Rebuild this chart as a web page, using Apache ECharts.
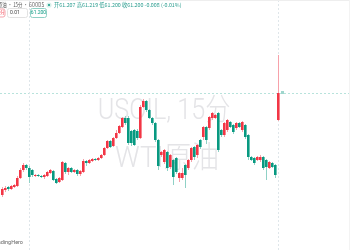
<!DOCTYPE html>
<html><head><meta charset="utf-8">
<script src="https://cdn.jsdelivr.net/npm/echarts@6/dist/echarts.min.js"></script>
<style>html,body{margin:0;padding:0;background:#fff}#c{width:350px;height:250px}</style>
</head><body><div id="c"></div>
<script>
var categories = [];
for (var k = 0; k < 93; k++) categories.push(String(k));
var opens = [60.18,60.23,60.26,60.24,60.26,60.27,60.35,60.43,60.48,60.45,60.43,60.37,60.38,60.37,60.36,60.37,60.40,60.42,60.34,60.31,60.33,60.50,60.41,60.45,60.41,60.43,60.39,60.41,60.52,60.50,60.52,60.54,60.53,60.55,60.58,60.65,60.72,60.67,60.75,60.80,60.86,60.95,60.95,60.82,60.83,60.82,60.75,61.06,61.12,61.03,60.95,60.90,60.73,60.58,60.51,60.61,60.46,60.53,60.55,60.35,60.35,60.48,60.45,60.53,60.66,60.58,60.73,60.76,60.86,60.85,60.95,60.95,61.00,60.83,60.78,60.83,60.91,60.88,60.85,60.90,60.83,60.88,60.78,60.56,60.55,60.53,60.53,60.56,60.53,60.45,60.50,60.48,60.93];
var closes = [60.24,60.25,60.24,60.27,60.28,60.35,60.43,60.48,60.45,60.36,60.38,60.38,60.37,60.36,60.38,60.41,60.43,60.33,60.30,60.35,60.51,60.41,60.45,60.41,60.43,60.39,60.42,60.52,60.50,60.53,60.54,60.53,60.55,60.58,60.65,60.72,60.66,60.75,60.80,60.87,60.95,60.90,60.70,60.70,60.68,60.75,61.06,61.12,61.03,60.95,60.90,60.73,60.47,60.61,60.63,60.45,60.58,60.36,60.41,60.40,60.40,60.38,60.53,60.65,60.56,60.68,60.66,60.86,60.73,60.96,61.00,60.98,60.63,60.78,60.90,60.93,60.86,60.81,60.90,60.86,60.91,60.76,60.56,60.53,60.50,60.56,60.56,60.45,60.46,60.51,60.46,60.38,61.20];
var lows = [60.16,60.21,60.22,60.23,60.25,60.26,60.34,60.41,60.43,60.30,60.36,60.36,60.36,60.35,60.34,60.36,60.39,60.32,60.29,60.30,60.32,60.39,60.38,60.40,60.40,60.37,60.37,60.40,60.47,60.49,60.51,60.52,60.52,60.54,60.57,60.64,60.65,60.66,60.74,60.79,60.85,60.88,60.68,60.67,60.67,60.73,60.74,61.05,61.01,60.94,60.88,60.71,60.43,60.56,60.49,60.42,60.44,60.28,60.39,60.31,60.33,60.25,60.43,60.51,60.53,60.55,60.64,60.73,60.69,60.83,60.93,60.94,60.61,60.76,60.76,60.81,60.85,60.79,60.83,60.85,60.81,60.74,60.53,60.52,60.48,60.52,60.51,60.43,60.33,60.44,60.45,60.35,60.92];
var highs = [60.26,60.27,60.27,60.28,60.29,60.37,60.45,60.50,60.49,60.47,60.44,60.39,60.39,60.38,60.39,60.42,60.44,60.43,60.35,60.36,60.52,60.51,60.46,60.46,60.44,60.44,60.43,60.54,60.53,60.54,60.55,60.55,60.56,60.59,60.66,60.73,60.73,60.76,60.83,60.88,60.96,60.97,60.97,60.83,60.84,60.84,61.08,61.14,61.13,61.04,60.96,60.91,60.74,60.62,60.64,60.62,60.59,60.54,60.56,60.41,60.45,60.49,60.54,60.66,60.67,60.69,60.74,60.87,60.87,60.97,61.01,60.99,61.01,60.84,60.91,60.94,60.92,60.89,60.91,60.91,60.92,60.89,60.79,60.57,60.56,60.57,60.58,60.57,60.54,60.52,60.51,60.49,61.58];
var lastPrice = 61.20;
var separatorIndex = 9;
var cursorIndex = 92;
var watermark1 = 'USOIL, 15分';
var watermark2 = 'WTI原油';
var headerLeft = 'WTI原油 · 15分 · GOODS';
var headerOHLC = '开61.207 高61.219 低61.200 收61.200 -0.008 (-0.01%)';
var boxes = ['分', '0.01', '61.200'];
var brand = 'TradingHero';

var RED = '#f23645', GREEN = '#089981';
var RED_WICK = '#f7a1aa', GREEN_WICK = '#8fd1c6';
var rows = opens.map(function(o, i){ return [i, o, closes[i], lows[i], highs[i]]; });

function renderCandle(params, api) {
  var i = api.value(0), o = api.value(1), c = api.value(2), l = api.value(3), h = api.value(4);
  var up = c >= o;
  var pO = api.coord([i, o]), pC = api.coord([i, c]), pL = api.coord([i, l]), pH = api.coord([i, h]);
  var x = Math.round(pO[0]);
  var top = Math.min(pO[1], pC[1]), bot = Math.max(pO[1], pC[1]);
  var bh = Math.max(1, bot - top);
  return {type:'group', children:[
    {type:'rect', shape:{x:x, y:pH[1], width:1, height:pL[1]-pH[1]}, style:{fill: up ? RED_WICK : GREEN_WICK}},
    {type:'rect', shape:{x:x-1, y:top, width:2.6, height:bh}, style:{fill: up ? RED : GREEN}}
  ]};
}

var chart = echarts.init(document.getElementById('c'), null, {renderer:'canvas'});
chart.setOption({
  animation:false,
  backgroundColor:'#ffffff',
  grid:{left:0.5, right:70.5, top:0, bottom:0, containLabel:false},
  xAxis:{type:'category', data:categories, boundaryGap:true, show:false},
  yAxis:{type:'value', min:59.63, max:62.13, show:false, splitLine:{show:false}},
  series:[{
    type:'custom', data:rows, z:5, renderItem:renderCandle,
    encode:{x:0, y:[1,2,3,4]}
  }]
});

var py = chart.convertToPixel({yAxisIndex:0}, lastPrice);
var sx = chart.convertToPixel({xAxisIndex:0}, separatorIndex);
var cx = chart.convertToPixel({xAxisIndex:0}, cursorIndex);
var dash = {stroke:'#b8e3dc', lineWidth:1, lineDash:[2,2]};
var vdash = {stroke:'#dfe6ea', lineWidth:1, lineDash:[2,2]};
var g = [];
g.push({type:'text', z:0, x:164, y:111, scaleX:0.84, style:{text:watermark1, x:0, y:0, align:'center', verticalAlign:'middle', fontSize:30, fontWeight:300, fontFamily:'Roboto, "Noto Sans CJK SC"', fill:'#e4e4e7'}});
g.push({type:'text', z:0, x:167, y:159, scaleX:0.92, style:{text:watermark2, x:0, y:0, align:'center', verticalAlign:'middle', fontSize:30, fontWeight:300, fontFamily:'Roboto, "Noto Sans CJK SC"', fill:'#e4e4e7'}});
g.push({type:'line', z:1, shape:{x1:0, y1:Math.round(py)+0.5, x2:350, y2:Math.round(py)+0.5}, style:dash});
g.push({type:'line', z:1, shape:{x1:Math.round(sx)+0.5, y1:0, x2:Math.round(sx)+0.5, y2:250}, style:vdash});
g.push({type:'line', z:1, shape:{x1:Math.round(cx)+0.5, y1:0, x2:Math.round(cx)+0.5, y2:250}, style:vdash});
g.push({type:'rect', z:6, shape:{x:cx+3, y:py-2, width:3, height:3}, style:{fill:'#9fd6cd'}});
g.push({type:'rect', z:10, shape:{x:0, y:0, width:350, height:1}, style:{fill:'#eeeeee'}});
g.push({type:'rect', z:10, shape:{x:349, y:0, width:1, height:250}, style:{fill:'#f3f3f3'}});
g.push({type:'text', z:10, x:44, y:5, scaleX:0.8, style:{text:headerLeft, x:0, y:0, align:'right', verticalAlign:'middle', fontSize:5.5, fontFamily:'"Noto Sans CJK SC", sans-serif', fill:'#555'}});
g.push({type:'circle', z:10, shape:{cx:49, cy:5, r:2.6}, style:{fill:'#d7f0eb'}});
g.push({type:'circle', z:11, shape:{cx:49, cy:5, r:1}, style:{fill:GREEN}});
g.push({type:'text', z:10, style:{text:headerOHLC, x:54, y:5, verticalAlign:'middle', fontSize:5.3, fontFamily:'"Noto Sans CJK SC", sans-serif', fill:'#2a9d8f'}});
g.push({type:'rect', z:10, shape:{x:-4, y:9, width:9, height:8, r:2}, style:{fill:'#fff', stroke:'#f5a3ab', lineWidth:1}});
g.push({type:'text', z:11, style:{text:boxes[0], x:0, y:13, verticalAlign:'middle', fontSize:5, fill:RED}});
g.push({type:'rect', z:10, shape:{x:7.5, y:8.5, width:20, height:9, r:2}, style:{fill:'#fff', stroke:'#e2e2e2', lineWidth:1}});
g.push({type:'text', z:11, style:{text:boxes[1], x:10, y:13, verticalAlign:'middle', fontSize:5, fontFamily:'Roboto', fill:'#444'}});
g.push({type:'rect', z:10, shape:{x:30.5, y:8.5, width:16, height:9, r:2}, style:{fill:'#fff', stroke:'#8fd0c5', lineWidth:1}});
g.push({type:'text', z:11, style:{text:boxes[2], x:38.5, y:13, align:'center', verticalAlign:'middle', fontSize:5, fontFamily:'Roboto', fill:GREEN}});
g.push({type:'text', z:10, style:{text:brand, x:23, y:243, align:'right', verticalAlign:'middle', fontSize:5.5, fontFamily:'Roboto', fill:'#666'}});
chart.setOption({graphic:g});
</script></body></html>
